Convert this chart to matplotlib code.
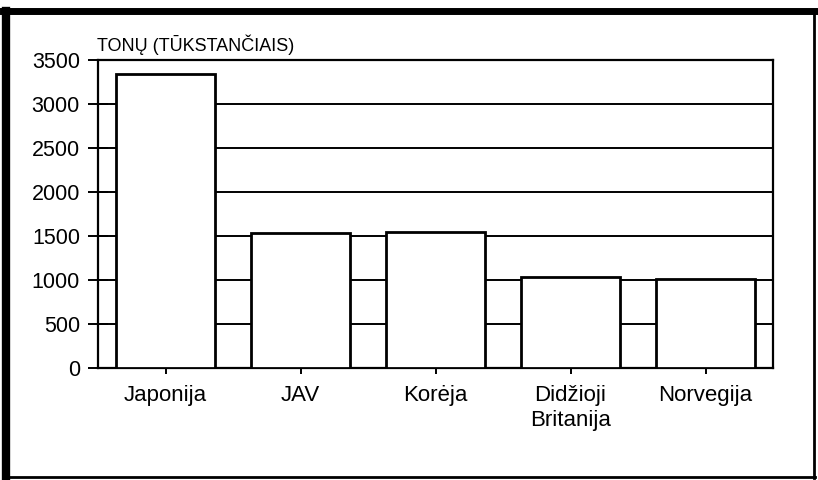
import matplotlib.pyplot as plt
from matplotlib.lines import Line2D

plt.rcParams['font.family'] = ['Liberation Sans', 'DejaVu Sans']

# Duomenys
salys = ['Japonija', 'JAV', 'Korėja', 'Didžioji\nBritanija', 'Norvegija']
tonos = [3340, 1530, 1545, 1035, 1015]
y_ticks = [0, 500, 1000, 1500, 2000, 2500, 3000, 3500]

fig = plt.figure(figsize=(8.18, 4.8), dpi=100)
W, H = 818, 480
ax = fig.add_axes([98 / W, 1 - 368 / H, 675 / W, 308 / H])

ax.set_axisbelow(True)
ax.yaxis.grid(True, color='black', linewidth=1.4)
ax.bar(range(len(salys)), tonos, width=0.74, color='white',
       edgecolor='black', linewidth=2, zorder=3)

ax.set_xlim(-0.5, 4.5)
ax.set_ylim(0, 3500)
ax.set_yticks(y_ticks)
ax.set_xticks(range(len(salys)))
ax.set_xticklabels(salys, fontsize=16)
ax.get_xticklabels()[3].set_linespacing(1.25)
ax.tick_params(axis='y', labelsize=15.5, direction='inout', length=14,
               width=1.4, pad=6)
ax.tick_params(axis='x', direction='out', length=4, width=1.4, pad=8)
for s in ax.spines.values():
    s.set_linewidth(1.6)

fig.text(97 / W, 1 - 45 / H, 'TONŲ (TŪKSTANČIAIS)', fontsize=13,
         ha='left', va='center')

# Rėmelis aplink visą paveikslą
fig.add_artist(Line2D([6 / W, 6 / W], [1 - 478 / H, 1 - 11 / H],
                      transform=fig.transFigure, color='black', linewidth=6))
fig.add_artist(Line2D([3 / W, 815 / W], [1 - 11 / H, 1 - 11 / H],
                      transform=fig.transFigure, color='black', linewidth=5))
fig.add_artist(Line2D([814 / W, 814 / W], [1 - 478 / H, 1 - 11 / H],
                      transform=fig.transFigure, color='black', linewidth=2))
fig.add_artist(Line2D([3 / W, 815 / W], [1 - 477 / H, 1 - 477 / H],
                      transform=fig.transFigure, color='black', linewidth=2))

fig.savefig('out.png', dpi=100)
